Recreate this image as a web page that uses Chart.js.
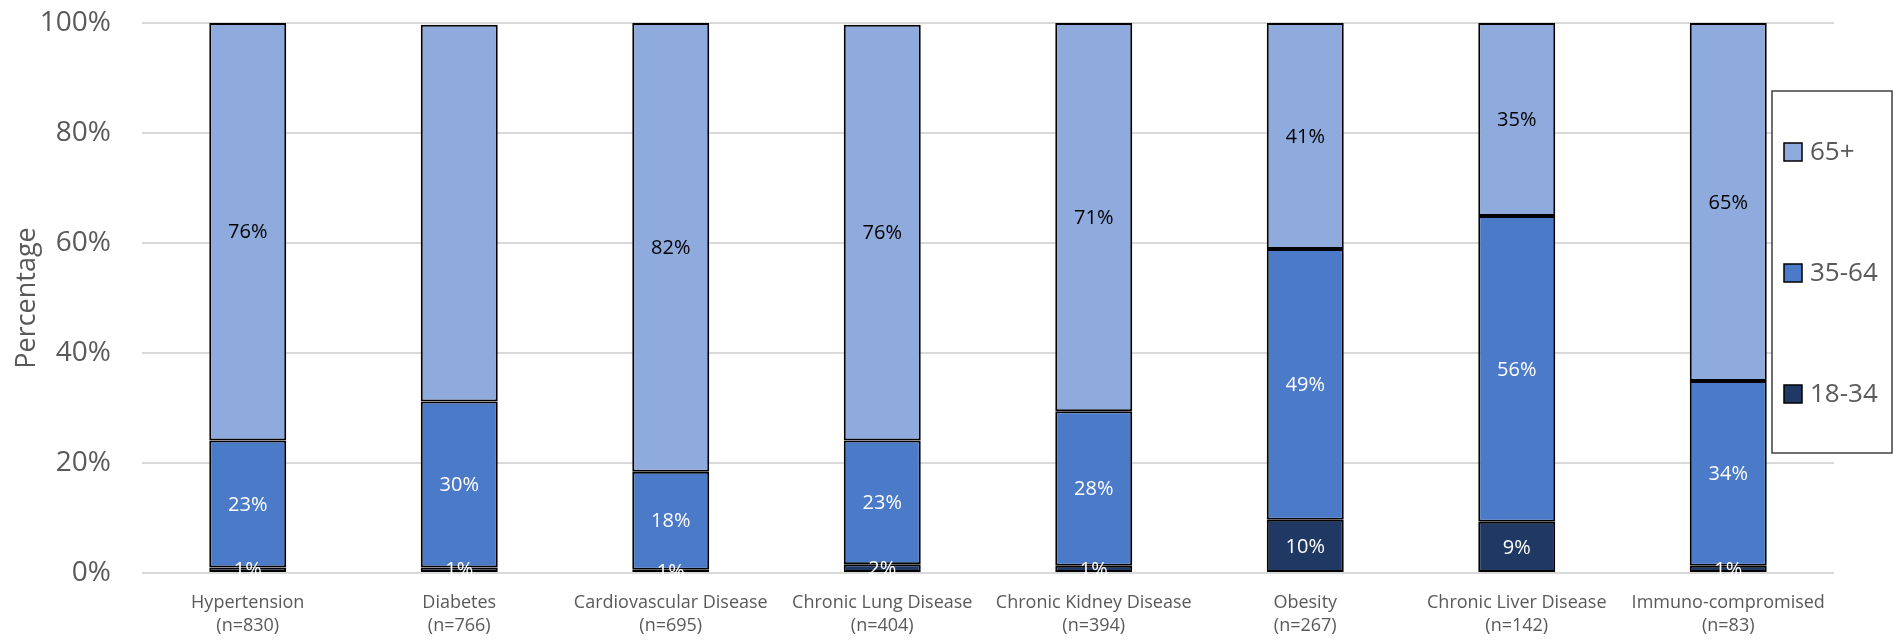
<!DOCTYPE html>
<html>
<head>
<meta charset="utf-8">
<script src="https://cdn.jsdelivr.net/npm/chart.js@4.4.1/dist/chart.umd.min.js"></script>
<style>
  html, body { margin: 0; padding: 0; background: #fff; }
  #wrap { width: 1902px; height: 642px; position: relative; }
</style>
</head>
<body>
<div id="wrap"><canvas id="ageChart"></canvas></div>
<script>
const categories = [
  ['Hypertension', '(n=830)'],
  ['Diabetes', '(n=766)'],
  ['Cardiovascular Disease', '(n=695)'],
  ['Chronic Lung Disease', '(n=404)'],
  ['Chronic Kidney Disease', '(n=394)'],
  ['Obesity', '(n=267)'],
  ['Chronic Liver Disease', '(n=142)'],
  ['Immuno-compromised', '(n=83)']
];
const age18to34 = [1.0, 1.0, 0.6, 1.6, 1.3, 9.7, 9.3, 1.3];
const age35to64 = [23.1, 30.2, 17.8, 22.5, 28.1, 49.2, 55.6, 33.6];
const age65plus = [75.9, 68.5, 81.6, 75.6, 70.6, 41.1, 35.1, 65.1];
// the source chart shows no label on the Diabetes 65+ segment
const hiddenLabels = { '65+': [1] };
const yTicks = [0, 20, 40, 60, 80, 100];

const FONT = '"Open Sans", "Noto Sans", sans-serif';
const GREY = '#595959';

// draws the value labels in the middle of every segment
const segmentLabels = {
  id: 'segmentLabels',
  afterDatasetsDraw(chart) {
    const ctx = chart.ctx;
    ctx.save();
    ctx.font = '20px ' + FONT;
    ctx.textAlign = 'center';
    ctx.textBaseline = 'middle';
    chart.data.datasets.forEach((ds, di) => {
      const meta = chart.getDatasetMeta(di);
      const skip = hiddenLabels[ds.label] || [];
      meta.data.forEach((bar, i) => {
        if (skip.includes(i)) return;
        const p = bar.getProps(['x', 'y', 'base'], true);
        ctx.fillStyle = ds.labelColor;
        ctx.fillText(Math.round(ds.data[i]) + '%', p.x, (p.y + p.base) / 2 + 1);
      });
    });
    ctx.restore();
  }
};

// boxed legend sitting over the right edge of the plot
const boxLegend = {
  id: 'boxLegend',
  afterDraw(chart) {
    const ctx = chart.ctx;
    ctx.save();
    ctx.fillStyle = '#fff';
    ctx.fillRect(1772, 91, 120, 362);
    ctx.strokeStyle = '#404040';
    ctx.lineWidth = 1.5;
    ctx.strokeRect(1772, 91, 120, 362);
    const order = chart.data.datasets.slice().reverse();
    ctx.font = '26px ' + FONT;
    ctx.textBaseline = 'middle';
    order.forEach((ds, k) => {
      const cy = 152 + k * 121;
      ctx.fillStyle = ds.backgroundColor;
      ctx.fillRect(1784, cy - 9, 18, 18);
      ctx.strokeStyle = '#000';
      ctx.lineWidth = 1.5;
      ctx.strokeRect(1784, cy - 9, 18, 18);
      ctx.fillStyle = GREY;
      ctx.fillText(ds.label, 1810, cy + 1);
    });
    ctx.restore();
  }
};

const ctx = document.getElementById('ageChart').getContext('2d');
const ageChart = new Chart(ctx, {
  type: 'bar',
  data: {
    labels: categories,
    datasets: [
      { label: '18-34', data: age18to34, backgroundColor: '#203864', labelColor: '#fff' },
      { label: '35-64', data: age35to64, backgroundColor: '#4A7AC8', labelColor: '#fff' },
      { label: '65+', data: age65plus, backgroundColor: '#8FAADC', labelColor: '#000' }
    ].map(d => Object.assign(d, {
      borderColor: '#000',
      borderWidth: 2,
      borderSkipped: false,
      barPercentage: 0.364,
      categoryPercentage: 1.0
    }))
  },
  options: {
    responsive: true,
    maintainAspectRatio: false,
    animation: false,
    layout: { padding: { top: 23, right: 68, left: 0, bottom: 0 } },
    plugins: {
      legend: { display: false },
      tooltip: { enabled: false }
    },
    scales: {
      x: {
        stacked: true,
        grid: { display: false },
        border: { display: false },
        ticks: {
          color: GREY,
          font: { family: FONT, size: 18, lineHeight: 1.3 },
          padding: 10,
          maxRotation: 0,
          autoSkip: false
        },
        afterFit: (s) => { s.height = 69; s.paddingLeft = 0; s.paddingRight = 0; }
      },
      y: {
        stacked: true,
        min: 0,
        max: 100,
        afterBuildTicks: (s) => { s.ticks = yTicks.map(v => ({ value: v })); },
        grid: { color: '#d9d9d9', lineWidth: 2, drawTicks: false },
        border: { display: false },
        ticks: {
          color: GREY,
          font: { family: FONT, size: 28 },
          padding: 31,
          callback: (v) => v + '%'
        },
        title: {
          display: true,
          text: 'Percentage',
          color: GREY,
          font: { family: FONT, size: 27 },
          padding: { top: 11, bottom: 0 }
        },
        afterFit: (s) => { s.width = 142; s.paddingTop = 0; s.paddingBottom = 0; }
      }
    }
  },
  plugins: [segmentLabels, boxLegend]
});
</script>
</body>
</html>
